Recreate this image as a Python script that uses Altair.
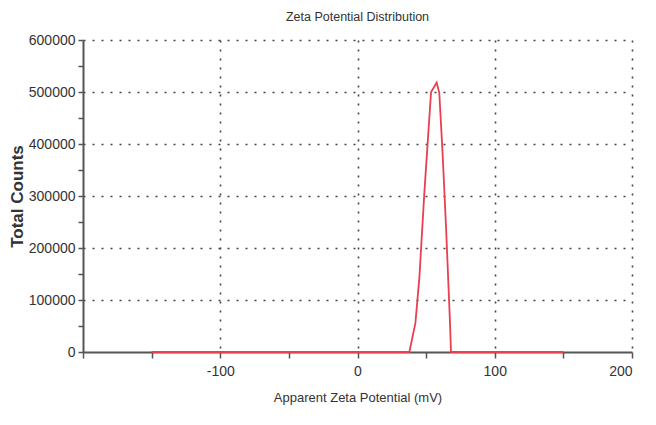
import altair as alt
import pandas as pd

# Zeta potential distribution
zeta_mv = [-150, 37.8, 42.2, 45.1, 48.7, 51.9, 53.6, 57.7, 59.6, 62.0, 64.5, 67.4, 68.1, 150]
counts = [0, 0, 56000, 144000, 306000, 433000, 500000, 518000, 498000, 382000, 241000, 56000, 0, 0]

x_ticks = [-200, -150, -100, -50, 0, 50, 100, 150, 200]
y_ticks = list(range(0, 600001, 50000))

df = pd.DataFrame({"zeta": zeta_mv, "counts": counts})

FONT = "Liberation Sans Narrow, Liberation Sans, Arial, sans-serif"
AXIS_COLOR = "#555555"
TEXT_COLOR = "#333333"

chart = (
    alt.Chart(df, title=alt.TitleParams(
        "Zeta Potential Distribution", font=FONT, fontSize=12.5, fontWeight="normal",
        color=TEXT_COLOR, offset=10))
    .mark_line(color="#e8404f", strokeWidth=1.8)
    .encode(
        x=alt.X("zeta:Q",
                scale=alt.Scale(domain=[-200, 200], nice=False, zero=False),
                axis=alt.Axis(
                    values=x_ticks,
                    title="Apparent Zeta Potential (mV)",
                    labelExpr="(datum.value % 100 == 0 && datum.value != -200) ? ('' + datum.value) : ''",
                    grid=True,
                    gridOpacity={"condition": {"test": "datum.value % 100 != 0 || datum.value == -200", "value": 0}, "value": 1},
                    gridColor="#444444", gridDash=[2, 7], gridWidth=1.6,
                    domainColor=AXIS_COLOR, domainWidth=2,
                    tickColor=AXIS_COLOR, tickSize=6, tickWidth=1.5, tickOffset=0,
                    labelFont=FONT, labelFontSize=14, labelColor=TEXT_COLOR, labelPadding=6,
                    titleFont=FONT, titleFontSize=13, titleFontWeight="normal",
                    titleColor=TEXT_COLOR, titlePadding=13,
                )),
        y=alt.Y("counts:Q",
                scale=alt.Scale(domain=[0, 600000], nice=False),
                axis=alt.Axis(
                    values=y_ticks,
                    title="Total Counts",
                    labelExpr="datum.value % 100000 == 0 ? format(datum.value, 'd') : ''",
                    grid=True,
                    gridOpacity={"condition": {"test": "datum.value % 100000 != 0 || datum.value == 0", "value": 0}, "value": 1},
                    gridColor="#444444", gridDash=[2, 7], gridWidth=1.6,
                    domainColor=AXIS_COLOR, domainWidth=2,
                    tickColor=AXIS_COLOR, tickSize=5, tickWidth=1.5,
                    labelFont=FONT, labelFontSize=14, labelColor=TEXT_COLOR, labelPadding=3,
                    titleFont="Liberation Sans, Arial, sans-serif", titleFontSize=17,
                    titleFontWeight="bold", titleColor=TEXT_COLOR, titleX=-57,
                )),
    )
    .properties(
        width=549, height=312,
        autosize=alt.AutoSizeParams(type="none"),
        padding={"left": 83, "top": 40, "right": 24, "bottom": 73},
        background="white",
    )
    .configure_view(stroke=None)
)

chart.save("out.html", embed_options={"renderer": "svg", "actions": False})
